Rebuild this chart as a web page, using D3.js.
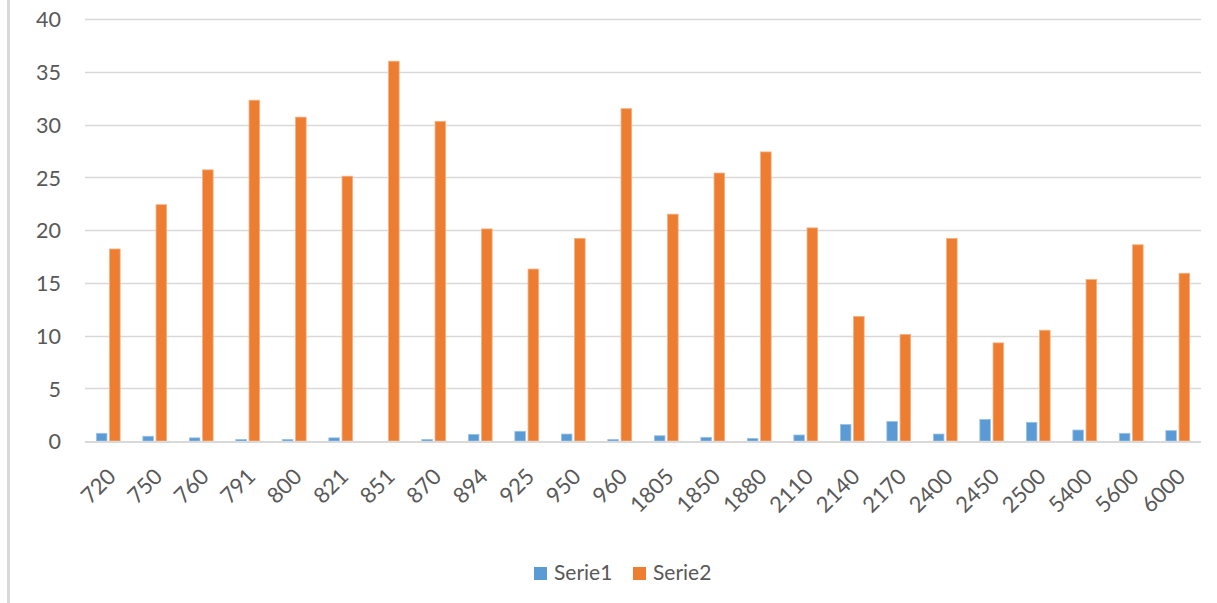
<!DOCTYPE html>
<html>
<head>
<meta charset="utf-8">
<script src="https://cdn.jsdelivr.net/npm/d3@7"></script>
<style>
  html, body { margin: 0; padding: 0; background: #ffffff; }
  svg { display: block; }
  text { font-family: Lato, "Noto Sans", sans-serif; fill: #595959; }
</style>
</head>
<body>
<svg id="chart" width="1217" height="603"></svg>
<script>
// Frequencies shown along the x axis
const categories = ["720", "750", "760", "791", "800", "821", "851", "870", "894", "925", "950", "960",
  "1805", "1850", "1880", "2110", "2140", "2170", "2400", "2450", "2500", "5400", "5600", "6000"];

// Series values, one per category
const serie1 = [0.73, 0.45, 0.30, 0.15, 0.15, 0.30, 0.0, 0.15, 0.63, 0.92, 0.66, 0.15,
  0.50, 0.35, 0.25, 0.57, 1.57, 1.86, 0.66, 2.05, 1.77, 1.04, 0.73, 0.98];
const serie2 = [18.2, 22.4, 25.7, 32.3, 30.7, 25.1, 36.0, 30.3, 20.1, 16.3, 19.2, 31.5,
  21.5, 25.4, 27.4, 20.2, 11.8, 10.1, 19.2, 9.3, 10.5, 15.3, 18.6, 15.9];

const seriesNames = ["Serie1", "Serie2"];
const yTicks = [0, 5, 10, 15, 20, 25, 30, 35, 40];

const colors = { Serie1: "#5b9bd5", Serie2: "#ed7d31" };
const strokes = { Serie1: "#9dc3e6", Serie2: "#f4b183" };

const svg = d3.select("#chart");
const W = 1217, H = 603;
const plot = { left: 85, right: 1201, top: 19, bottom: 441 };

// chart area border on the left
svg.append("line")
  .attr("x1", 8.5).attr("x2", 8.5)
  .attr("y1", 0).attr("y2", H)
  .attr("stroke", "#d9d9d9").attr("stroke-width", 3);

const x = d3.scaleBand()
  .domain(categories)
  .range([plot.left, plot.right])
  .paddingInner(0).paddingOuter(0);

const y = d3.scaleLinear()
  .domain([0, 40])
  .range([plot.bottom, plot.top]);

// horizontal gridlines
svg.append("g")
  .selectAll("line")
  .data(yTicks.filter(t => t > 0))
  .join("line")
  .attr("x1", plot.left).attr("x2", plot.right)
  .attr("y1", d => Math.round(y(d)) + 0.5)
  .attr("y2", d => Math.round(y(d)) + 0.5)
  .attr("stroke", "#d9d9d9").attr("stroke-width", 1.3);

// y-axis labels
const yAxis = d3.axisLeft(y).tickValues(yTicks).tickSize(0).tickPadding(0);
const gy = svg.append("g")
  .attr("transform", `translate(${plot.left - 24},0)`)
  .call(yAxis);
gy.select(".domain").remove();
gy.selectAll("text")
  .attr("font-size", 21.5)
  .attr("fill", "#595959")
  .attr("dy", "0.36em")
  .style("font-family", "Lato, 'Noto Sans', sans-serif");

// grouped bars
const barW = 10.6, gap = 2.6;
const groups = svg.append("g");
categories.forEach((c, i) => {
  const cx = x(c) + x.bandwidth() / 2;
  [serie1[i], serie2[i]].forEach((v, s) => {
    const name = seriesNames[s];
    if (v <= 0) return;
    const x0 = s === 0 ? cx - gap / 2 - barW : cx + gap / 2;
    groups.append("rect")
      .attr("x", x0)
      .attr("y", y(v))
      .attr("width", barW)
      .attr("height", y(0) - y(v))
      .attr("fill", colors[name])
      .attr("stroke", strokes[name])
      .attr("stroke-width", 0.8);
  });
});

// x-axis baseline
svg.append("line")
  .attr("x1", plot.left).attr("x2", plot.right)
  .attr("y1", plot.bottom + 1).attr("y2", plot.bottom + 1)
  .attr("stroke", "#d9d9d9").attr("stroke-width", 2);

// x-axis labels, rotated
const xAxis = d3.axisBottom(x).tickSize(0).tickPadding(0);
const gx = svg.append("g")
  .attr("transform", `translate(0,${plot.bottom})`)
  .call(xAxis);
gx.select(".domain").remove();
gx.selectAll("text")
  .attr("font-size", 22)
  .attr("fill", "#595959")
  .attr("text-anchor", "end")
  .attr("dy", null)
  .attr("y", 0)
  .attr("transform", "translate(9,37) rotate(-45)")
  .style("font-family", "Lato, 'Noto Sans', sans-serif");

// legend
const legend = svg.append("g");
const legendX = [534, 633];
seriesNames.forEach((name, i) => {
  legend.append("rect")
    .attr("x", legendX[i]).attr("y", 567)
    .attr("width", 13).attr("height", 13)
    .attr("fill", colors[name]);
  legend.append("text")
    .attr("x", legendX[i] + 20).attr("y", 580)
    .attr("font-size", 21)
    .text(name);
});
</script>
</body>
</html>
